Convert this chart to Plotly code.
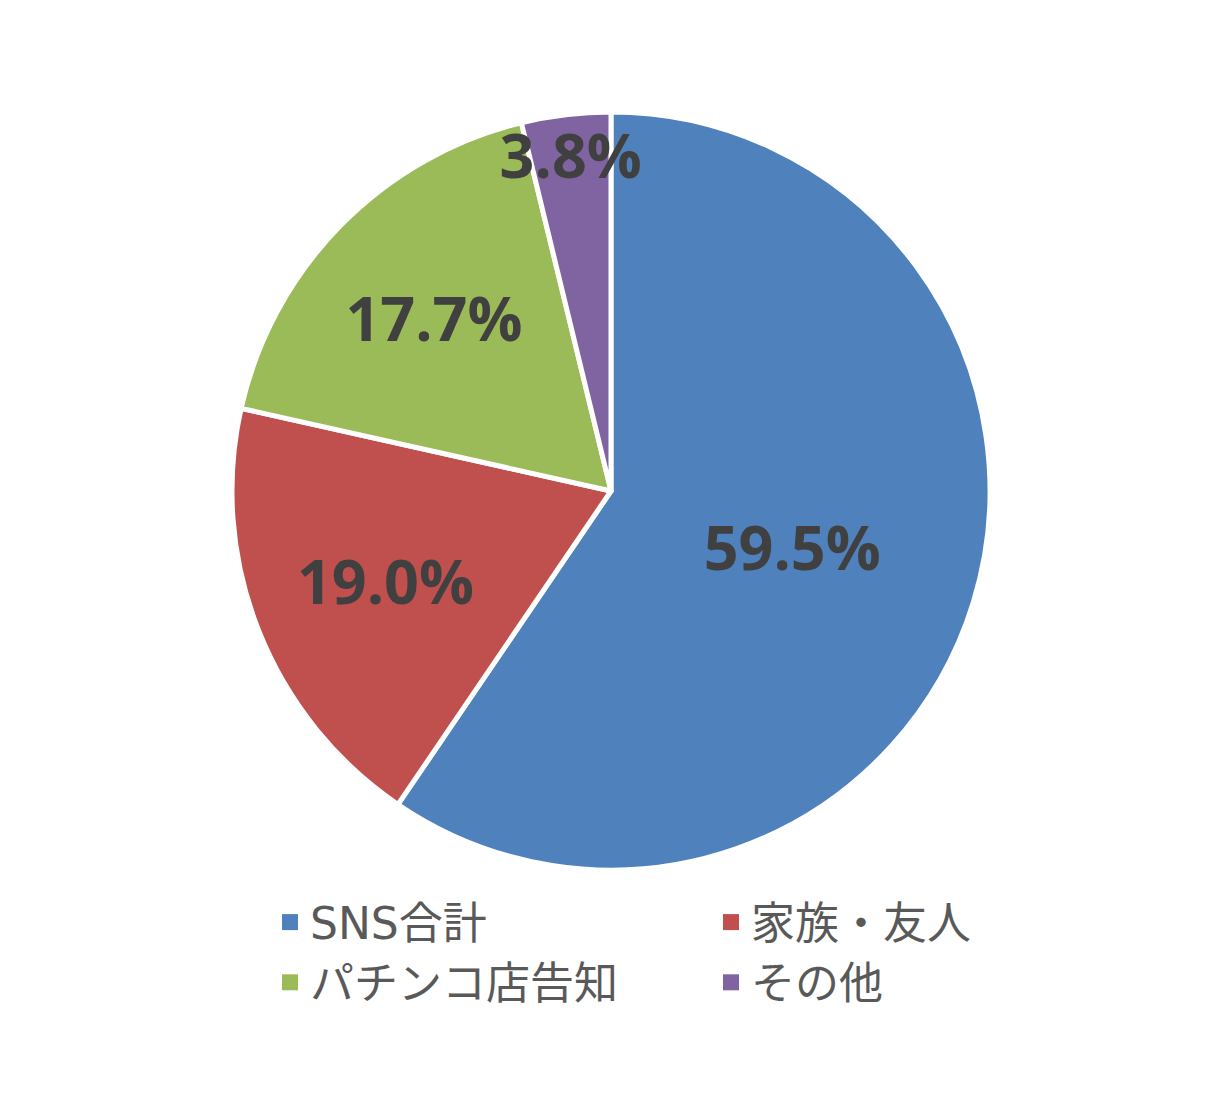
import plotly.graph_objects as go

labels = ["SNS合計", "家族・友人", "パチンコ店告知", "その他"]
values = [59.5, 19.0, 17.7, 3.8]
colors = ["#4F81BD", "#C0504D", "#9BBB59", "#8064A2"]
text_labels = ["59.5%", "19.0%", "17.7%", "3.8%"]

W, H = 1222, 1100
off = 8  # browser body margin

fig = go.Figure()
fig.add_trace(go.Pie(
    labels=labels,
    values=values,
    text=text_labels,
    textinfo="text",
    textposition="inside",
    insidetextorientation="horizontal",
    sort=False,
    direction="clockwise",
    rotation=0,
    showlegend=False,
    marker=dict(colors=colors, line=dict(color="white", width=5)),
    textfont=dict(family="Open Sans", size=61, color="#404040", weight="bold"),
    domain=dict(x=[(232 - off) / W, (990 - off) / W],
                y=[1 - (870 - off) / H, 1 - (112 - off) / H]),
    hoverinfo="label+percent",
))

# legend entries as square markers (larger than the built-in pie legend symbol)
for lab, col in zip(labels, colors):
    fig.add_trace(go.Scatter(
        x=[None], y=[None], mode="markers", name=lab,
        marker=dict(symbol="square", size=16, color=col),
        showlegend=True, hoverinfo="skip",
    ))

fig.update_layout(
    width=W, height=H,
    margin=dict(l=0, r=0, t=0, b=0),
    paper_bgcolor="white",
    plot_bgcolor="white",
    xaxis=dict(visible=False),
    yaxis=dict(visible=False),
    uniformtext=dict(minsize=61, mode="show"),
    showlegend=True,
    legend=dict(
        orientation="h",
        x=(270 - off) / W, xanchor="left",
        y=1 - (887 - off) / H, yanchor="top",
        font=dict(family="DejaVu Sans, Noto Sans CJK JP", size=44, color="#595959"),
        entrywidth=396, entrywidthmode="pixels",
        traceorder="normal",
        tracegroupgap=0,
    ),
)

fig.write_html("out.html")
